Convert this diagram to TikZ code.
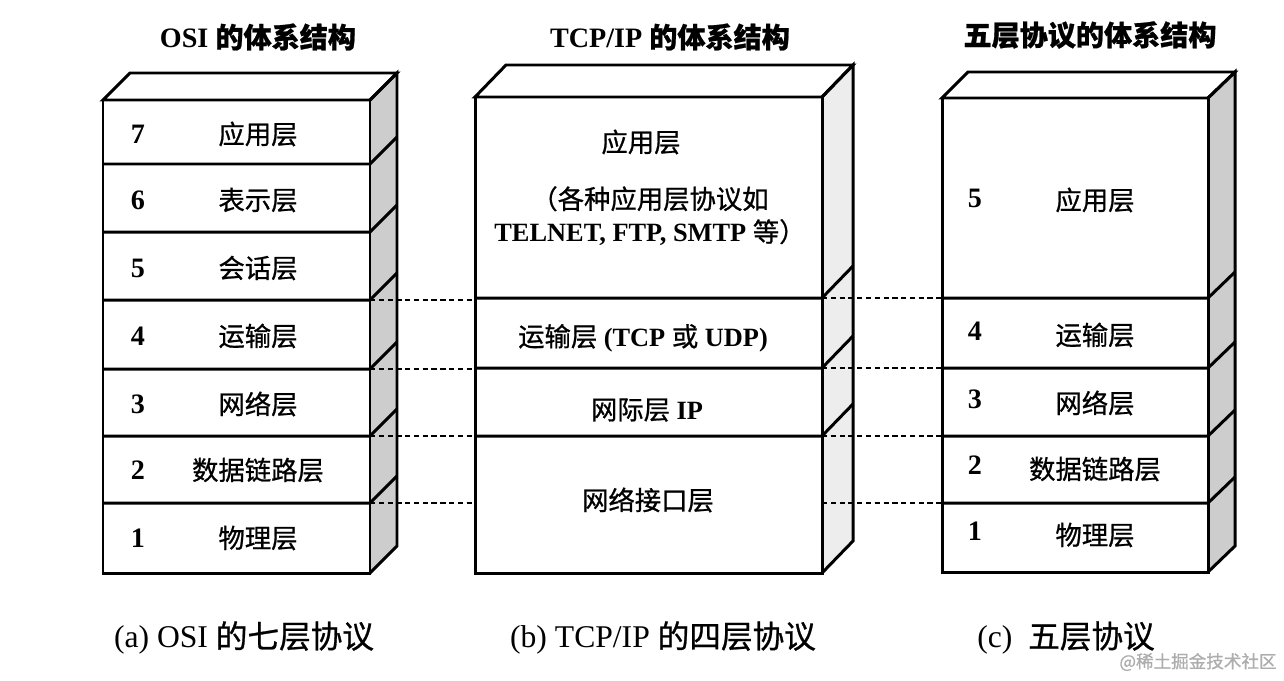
\documentclass[tikz,border=0pt]{standalone}
\usepackage{fontspec}
\setmainfont{Liberation Serif}
\newfontfamily\cjk[FakeBold=0.8]{Noto Sans CJK SC}
\usepackage{tikz}
\usetikzlibrary{calc}
\definecolor{side_gray}{HTML}{CDCDCD}
\definecolor{side_light}{HTML}{EDEDED}
\definecolor{mark_gray}{HTML}{ADADAD}

\begin{document}
\begin{tikzpicture}[
    x=0.02cm, y=-0.02cm,  % one unit = one pixel of the 1284x680 sketch, y downwards
    frame/.style={line width=1.7pt},
    link/.style={line width=1pt, dash pattern=on 3pt off 2pt},
    num/.style={font=\fontsize{16}{18}\selectfont\bfseries},
    lbl/.style={font=\fontsize{15}{18}\selectfont},
    ttl/.style={font=\fontsize{16}{19}\selectfont\bfseries},
    captext/.style={font=\fontsize{18}{21}\selectfont},
]
\useasboundingbox (0,0) rectangle (1284,680);

% ── Titles ───────────────────────────────────────────────────────────────────
\node[ttl] (ta) at (258,37) {OSI {\cjk 的体系结构}};
\node[ttl] (tb) at (670,37) {TCP/IP {\cjk 的体系结构}};
\node[ttl] (tc) at (1090,35) {\cjk 五层协议的体系结构};

% ── Stack (a): OSI, seven layers ─────────────────────────────────────────────
\fill[side_gray] (370,100) -- (397,73) -- (397,546) -- (370,573) -- cycle;
\draw[frame, fill=white] (103,100) -- (130,73) -- (397,73) -- (370,100) -- cycle;
\draw[frame] (103,100) rectangle (370,573);
\draw[frame] (370,100) -- (397,73) -- (397,546) -- (370,573);
\foreach \y [count=\i] in {164,232,300,369,436,503} {
    \draw[frame] (103,\y) -- (370,\y) -- (397,\y-27);
    \coordinate (aR\i) at (370,\y);
}

\node[num] (an7) at (138,134) {7}; \node[lbl] (a7) at (258,134) {\cjk 应用层};
\node[num] (an6) at (138,200) {6}; \node[lbl] (a6) at (258,200) {\cjk 表示层};
\node[num] (an5) at (138,268) {5}; \node[lbl] (a5) at (258,268) {\cjk 会话层};
\node[num] (an4) at (138,336) {4}; \node[lbl] (a4) at (258,336) {\cjk 运输层};
\node[num] (an3) at (138,404) {3}; \node[lbl] (a3) at (258,404) {\cjk 网络层};
\node[num] (an2) at (138,470) {2}; \node[lbl] (a2) at (258,470) {\cjk 数据链路层};
\node[num] (an1) at (138,538) {1}; \node[lbl] (a1) at (258,538) {\cjk 物理层};

% ── Stack (b): TCP/IP, four layers ───────────────────────────────────────────
\fill[side_light] (822,97) -- (853,65) -- (853,541) -- (822,573) -- cycle;
\draw[frame, fill=white] (475,97) -- (506,65) -- (853,65) -- (822,97) -- cycle;
\draw[frame] (475,97) rectangle (822,573);
\draw[frame] (822,97) -- (853,65) -- (853,541) -- (822,573);
\foreach \y in {298,368,436} {
    \draw[frame] (475,\y) -- (822,\y) -- (853,\y-32);
}
\foreach \y [count=\i] in {300,369,436,503} {
    \coordinate (bL\i) at (475,\y);
}
\foreach \y [count=\i] in {298,368,436,503} {
    \coordinate (bR\i) at (822,\y);
}

\node[lbl] (b4) at (641,142) {\cjk 应用层};
\node[lbl, align=center, font=\fontsize{15}{18.7}\selectfont] (b4note) at (650,216)
    {{\cjk （各种应用层协议如}\\\textbf{TELNET, FTP, SMTP} {\cjk 等）}};
\node[lbl] (b3) at (643,338) {{\cjk 运输层} \textbf{(TCP} {\cjk 或} \textbf{UDP)}};
\node[lbl] (b2) at (647,410) {{\cjk 网际层} \textbf{IP}};
\node[lbl] (b1) at (648,500) {\cjk 网络接口层};

% ── Stack (c): five-layer model ──────────────────────────────────────────────
\fill[side_gray] (1208,98) -- (1235,72) -- (1235,546) -- (1208,572) -- cycle;
\draw[frame, fill=white] (942,98) -- (968,72) -- (1235,72) -- (1208,98) -- cycle;
\draw[frame] (942,98) rectangle (1208,572);
\draw[frame] (1208,98) -- (1235,72) -- (1235,546) -- (1208,572);
\foreach \y [count=\i] in {298,368,436,503} {
    \draw[frame] (942,\y) -- (1208,\y) -- (1235,\y-26);
    \coordinate (cL\i) at (942,\y);
}

\node[num] (cn5) at (975,198) {5}; \node[lbl] (c5) at (1095,200) {\cjk 应用层};
\node[num] (cn4) at (975,331) {4}; \node[lbl] (c4) at (1095,335) {\cjk 运输层};
\node[num] (cn3) at (975,399) {3}; \node[lbl] (c3) at (1095,403) {\cjk 网络层};
\node[num] (cn2) at (975,465) {2}; \node[lbl] (c2) at (1095,469) {\cjk 数据链路层};
\node[num] (cn1) at (975,531) {1}; \node[lbl] (c1) at (1095,535) {\cjk 物理层};

% ── Dashed links between corresponding layer boundaries ─────────────────────
\foreach \i/\j in {3/1,4/2,5/3,6/4} {
    \draw[link] (aR\i) -- (bL\j);
    \draw[link] (bR\j) -- (cL\j);
}

% ── Captions ─────────────────────────────────────────────────────────────────
\node[captext] (capa) at (244,638) {(a) OSI {\cjk 的七层协议}};
\node[captext] (capb) at (663,638) {(b) TCP/IP {\cjk 的四层协议}};
\node[captext] (capc) at (1066,638) {(c)\ \ {\cjk 五层协议}};

\node[font=\fontsize{10}{12}\selectfont, text=mark_gray] (mark) at (1198,662)
    {\cjk @稀土掘金技术社区};

\end{tikzpicture}
\end{document}
